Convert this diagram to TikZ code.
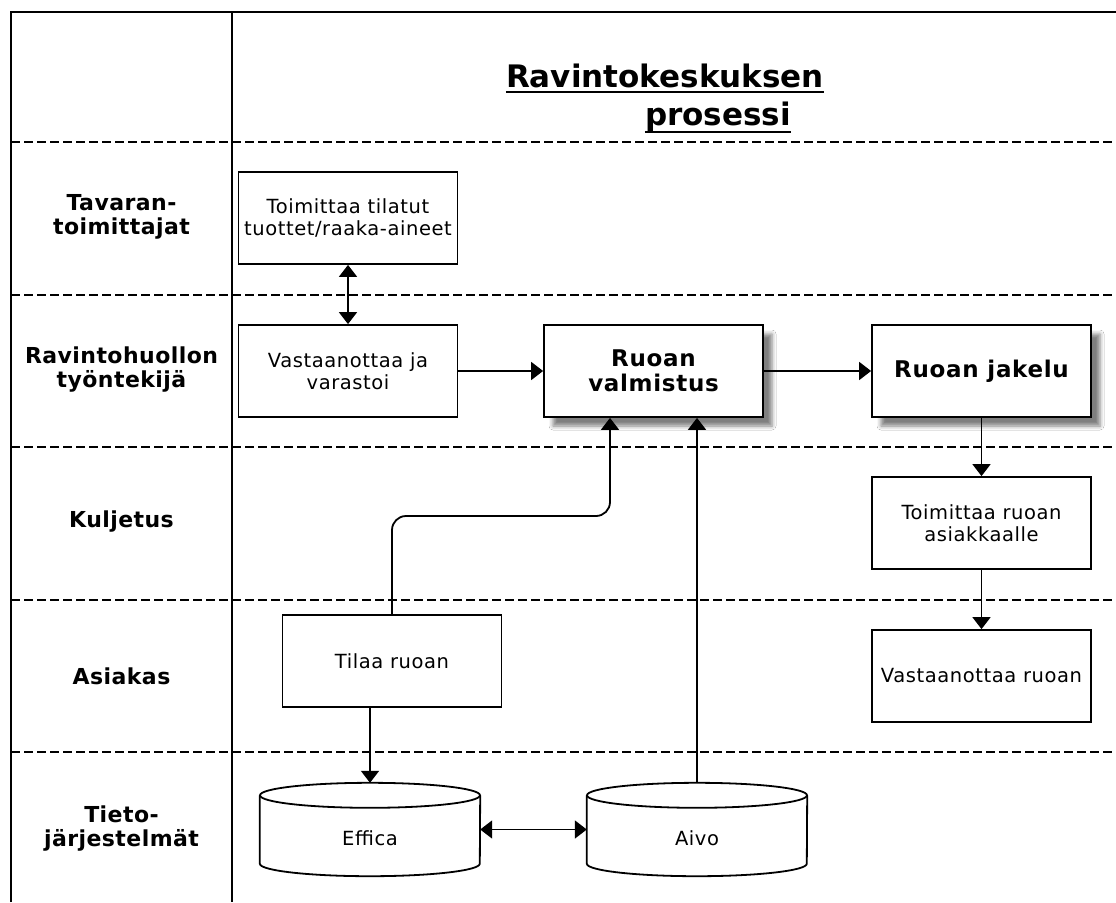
\documentclass[tikz,border=0pt]{standalone}
\usepackage{fontspec}
\setmainfont{DejaVu Sans}
\newfontfamily\boxfont{DejaVu Sans}[LetterSpace=3]
\newfontfamily\lanefont{DejaVu Sans Bold}[LetterSpace=2]
\newfontfamily\bboxfont{DejaVu Sans Bold}[LetterSpace=3]
\newfontfamily\titlefont{DejaVu Sans Bold}
\usetikzlibrary{arrows.meta,shadows.blur,calc}
\tikzset{
  frame/.style={line width=2pt, draw=black},
  lanesep/.style={line width=1.3pt, dash pattern=on 9pt off 4pt, draw=black},
  lanelabel/.style={align=center, font=\lanefont\fontsize{22}{24}\selectfont, text=black},
  procbox/.style={draw=black, line width=1.8pt, fill=white, minimum width=219pt, minimum height=92pt, inner sep=0pt, align=center, font=\boxfont\fontsize{19.5}{22}\selectfont, text=black},
  boldbox/.style={procbox, font=\bboxfont\fontsize{23}{25}\selectfont, blur shadow={shadow xshift=9pt, shadow yshift=-9pt, shadow blur radius=4pt, shadow opacity=50}},
  dbnode/.style={minimum width=220pt, minimum height=93pt, inner sep=0pt},
  cyl/.style={draw=black, line width=1.8pt},
  arr/.style={line width=1.8pt, -{Triangle[width=18pt,length=12pt]}},
  darr/.style={line width=1.8pt, {Triangle[width=18pt,length=12pt]}-{Triangle[width=18pt,length=12pt]}},
  titletext/.style={font=\titlefont\fontsize{31}{36}\selectfont, inner sep=0pt, text=black}
}
\begin{document}
\begin{tikzpicture}[x=1pt,y=-1pt]
\useasboundingbox (0,0) rectangle (1116,902);
\fill[white] (0,0) rectangle (1116,902);

% frame
\draw[frame] (11,902) -- (11,12) -- (1116,12);
\draw[frame] (232,12) -- (232,902);

% lane separators
\foreach \yy in {142,295,447,600,752}
  \draw[lanesep] (11,\yy) -- (1116,\yy);

% title
\node[titletext, anchor=base] (t1) at (665,87) {Ravintokeskuksen};
\node[titletext, anchor=base] (t2) at (718,125) {prosessi};
\draw[line width=2.8pt] ([yshift=-5pt]t1.base west) -- ([yshift=-5pt]t1.base east);
\draw[line width=2.8pt] ([yshift=-7pt]t2.base west) -- ([yshift=-7pt]t2.base east);

% lane labels
\node[lanelabel] (l1) at (121.5,217) {Tavaran-\\toimittajat};
\node[lanelabel] (l2) at (121.5,370) {Ravintohuollon\\työntekijä};
\node[lanelabel] (l3) at (121.5,522) {Kuljetus};
\node[lanelabel] (l4) at (121.5,676) {Asiakas};
\node[lanelabel] (l5) at (121.5,829) {Tieto-\\järjestelmät};

% process boxes
\node[procbox] (tt) at (348,218) {Toimittaa tilatut\\tuottet/raaka-aineet};
\node[procbox] (va) at (348,371) {Vastaanottaa ja\\varastoi};
\node[boldbox] (rv) at (653.5,371) {Ruoan\\valmistus};
\node[boldbox] (rj) at (981.5,371) {Ruoan jakelu};
\node[procbox] (tr) at (981.5,523) {Toimittaa ruoan\\asiakkaalle};
\node[procbox] (vr) at (981.5,676) {Vastaanottaa ruoan};
\node[procbox] (tl) at (392,661) {Tilaa ruoan};

% databases
\node[dbnode] (ef) at (370,829.5) {};
\node[dbnode] (ai) at (697,829.5) {};
\foreach \n in {ef,ai}{
  \draw[cyl] ($(\n.north)+(0,12.5)$) ellipse [x radius=110, y radius=12.5];
  \draw[cyl] ($(\n.north west)+(0,12.5)$) -- ($(\n.south west)+(0,-12.5)$)
     arc[start angle=180, end angle=0, x radius=110, y radius=12.5]
     -- ($(\n.north east)+(0,12.5)$);
}
\node[font=\boxfont\fontsize{19.5}{22}\selectfont] (eft) at (370,838) {Effica};
\node[font=\boxfont\fontsize{19.5}{22}\selectfont] (ait) at (697,838) {Aivo};

% connectors
\draw[darr] (tt.south) -- (va.north);
\draw[arr] (va.east) -- (rv.west);
\draw[arr] (rv.east) -- (rj.west);
\draw[arr] (rj.south) -- (tr.north);
\draw[arr] (tr.south) -- (vr.north);
\draw[arr] (tl.south -| ef.north) -- (ef.north);
\coordinate (bend) at (610,516);
\draw[arr, rounded corners=14pt] (tl.north) |- (bend) -- (bend |- rv.south);
\draw[arr] (ai.north) -- (ai.north |- rv.south);
\draw[darr] (ef.east) -- (ai.west);
\end{tikzpicture}
\end{document}
